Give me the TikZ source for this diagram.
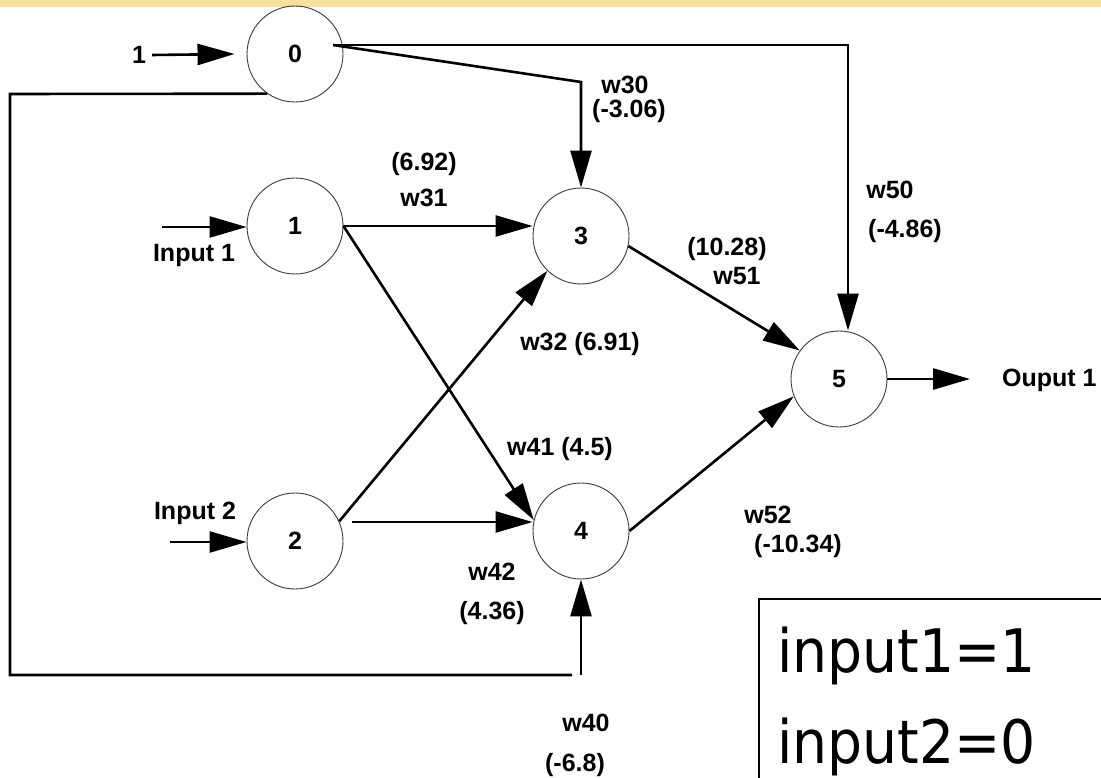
\documentclass[tikz,border=0pt]{standalone}
\usepackage{fontspec}
\usepackage{graphicx}
\usetikzlibrary{arrows.meta}
\newfontfamily\wfont{Liberation Sans}
\newfontfamily\notefont{DejaVu Sans}
\definecolor{band}{RGB}{249,223,160}
\definecolor{ring}{RGB}{60,60,60}

\begin{document}
\begin{tikzpicture}[x=1pt,y=-1pt,
  neuron/.style={circle,draw=ring,line width=0.9pt,minimum size=96pt,inner sep=0pt,
    font=\fontsize{25}{30}\selectfont\wfont\bfseries},
  wt/.style={inner sep=0pt,font=\fontsize{25}{30}\selectfont\wfont\bfseries},
  note/.style={inner sep=0pt,anchor=base west,font=\fontsize{60}{72}\selectfont\notefont},
  link/.style={line width=2.6pt},
  arr/.style={link,-{Triangle[length=37pt,width=21pt]}},
]
\useasboundingbox (0,0) rectangle (1101,778);
% title band
\fill[band] (0,0) rectangle (1101,7);

% neurons
\node[neuron] (n0) at (295,54) {0};
\node[neuron] (n1) at (295,226) {1};
\node[neuron] (n2) at (295,541) {2};
\node[neuron] (n3) at (581,236) {3};
\node[neuron] (n4) at (581,531) {4};
\node[neuron] (n5) at (839,379) {5};

% bias input and external inputs
\node[wt] (one) at (139,55) {1};
\draw[arr] (one.east) ++(6,0) -- ([xshift=-12pt]n0.west);
\coordinate (in1) at (162,227);
\draw[arr] (in1) -- (in1 -| n1.west);
\node[wt] (lin1) at (194,255) {Input 1};
\coordinate (in2) at (170,542);
\draw[arr] (in2) -- (in2 -| n2.west);
\node[wt] (lin2) at (195,513) {Input 2};

% bias connections from neuron 0
\coordinate (s0) at (333,45);
\coordinate (k30) at (581,82);
\coordinate (k50) at (848,45);
\draw[arr] (s0) -- (k30) -- (n3.north);
\draw[arr] (s0) -- (k50) -- (k50 |- n5.north);
\coordinate (L1) at (10,94);
\coordinate (L2) at (10,675);
\coordinate (L3) at (572,675);
\coordinate (L4) at (581,675);
\draw[link] (n0.235) -- (L1) -- (L2) -- (L3);
\draw[arr] (L4) -- (n4.south);

% hidden layer connections
\draw[arr] (n1.east) -- (n1.east -| n3.west);
\draw[arr] (n1.east) -- (n4.167);
\draw[arr] (n2.24) -- (n3.226);
\coordinate (s24) at (352,522);
\draw[arr] (s24) -- (s24 -| n4.west);

% output connections
\draw[arr] (n3.-12) -- (n5.144);
\draw[arr] (n4.east) -- (n5.201);
\coordinate (out) at (970,379);
\draw[arr] (n5.east) -- (out);
\node[wt,anchor=west] (lout) at (1002,380) {Ouput 1};

% weights
\node[wt] (w30) at (625,85) {w30};
\node[wt] (v30) at (629,111) {(-3.06)};
\node[wt] (v31) at (424,164) {(6.92)};
\node[wt] (w31) at (424,198) {w31};
\node[wt] (w50) at (890,190) {w50};
\node[wt] (v50) at (905,231) {(-4.86)};
\node[wt] (v51) at (727,249) {(10.28)};
\node[wt] (w51) at (737,276) {w51};
\node[wt] (w32) at (580,344) {w32 (6.91)};
\node[wt] (w41) at (560,449) {w41 (4.5)};
\node[wt] (w42) at (492,572) {w42};
\node[wt] (v42) at (492,613) {(4.36)};
\node[wt] (w52) at (768,515) {w52};
\node[wt] (v52) at (798,546) {(-10.34)};
\node[wt] (w40) at (586,723) {w40};
\node[wt] (v40) at (575,765) {(-6.8)};

% input values box
\draw[line width=1.6pt] (759,778) -- (759,599) -- (1101,599);
\node[note] (i1) at (777,672) {\scalebox{0.92}[1]{input1=1}};
\node[note] (i2) at (777,763) {\scalebox{0.92}[1]{input2=0}};
\end{tikzpicture}
\end{document}
